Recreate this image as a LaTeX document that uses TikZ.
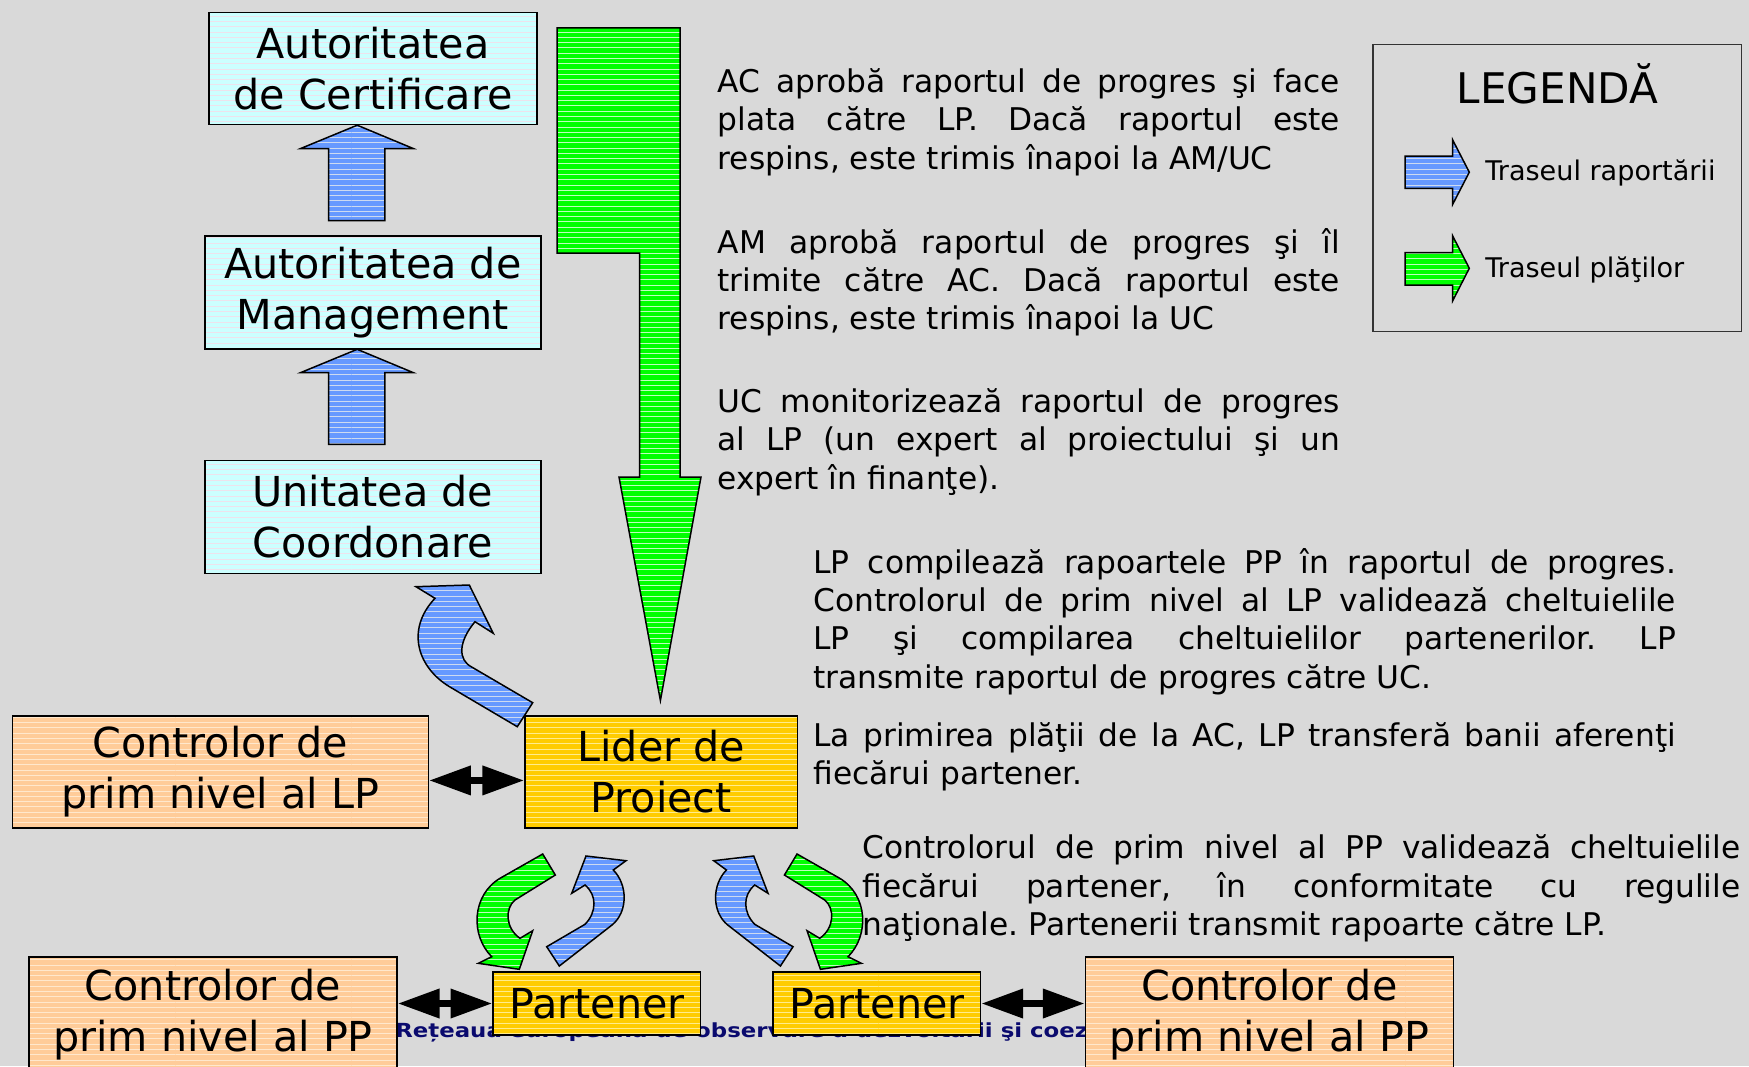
\documentclass[tikz,border=0pt]{standalone}
\usepackage{fontspec}
\setmainfont{DejaVu Sans}
\usepackage{graphicx}
\usepackage{tikz}
\usetikzlibrary{arrows.meta,patterns}

\definecolor{bggray}{RGB}{217,217,217}
\definecolor{boxcyan}{RGB}{204,255,255}
\definecolor{cyanline}{RGB}{238,226,236}
\definecolor{boxorange}{RGB}{255,204,153}
\definecolor{orangeline}{RGB}{255,232,205}
\definecolor{boxgold}{RGB}{255,204,0}
\definecolor{goldline}{RGB}{255,236,140}
\definecolor{arrowblue}{RGB}{102,153,255}
\definecolor{blueline}{RGB}{205,218,240}
\definecolor{arrowgreen}{RGB}{0,255,0}
\definecolor{greenline}{RGB}{190,255,190}
\definecolor{footnavy}{RGB}{10,10,110}

\newcommand{\boxfont}{\fontsize{23.5}{29}\selectfont}
\newcommand{\parfont}{\frenchspacing\fontsize{17.8}{21.8}\selectfont}
\newcommand{\legfont}{\fontsize{15.4}{18}\selectfont}

\begin{document}
\begin{tikzpicture}[x=0.02cm, y=-0.02cm,
  box/.style={draw, line width=0.85pt, align=center, inner sep=0pt, font=\boxfont, pattern=horizontal lines},
  cyanbox/.style={box, preaction={fill=boxcyan}, pattern color=cyanline},
  orangebox/.style={box, preaction={fill=boxorange}, pattern color=orangeline},
  goldbox/.style={box, preaction={fill=boxgold}, pattern color=goldline},
  blockarrow/.style={draw, line width=0.85pt, line join=miter, pattern=horizontal lines},
  bluearrow/.style={blockarrow, preaction={fill=arrowblue}, pattern color=blueline},
  greenarrow/.style={blockarrow, preaction={fill=arrowgreen}, pattern color=greenline},
  txt/.style={anchor=base west, align=justify, inner sep=0pt, font=\parfont},
  dblarrow/.style={{Triangle[length=23.8pt,width=15.9pt]}-{Triangle[length=23.8pt,width=15.9pt]}, line width=4pt}]

\useasboundingbox (0,0) rectangle (1749,1066);
\fill[bggray] (0,0) rectangle (1749,1066);

% slide footer, partly hidden by the boxes
\node[anchor=west, inner sep=0pt, text=footnavy] (footer) at (395,1032) {\scalebox{1}[0.85]{\bfseries\fontsize{13}{13}\selectfont Rețeaua europeană de observare a dezvoltării şi coeziunii teritoriale}};

% authorities

\node[cyanbox, minimum width=6.57cm, minimum height=2.25cm] (ac) at (373,68.5) {Autoritatea\\de Certificare};
\node[cyanbox, minimum width=6.72cm, minimum height=2.26cm] (am) at (372.8,292.5) {Autoritatea de\\Management};
\node[cyanbox, minimum width=6.72cm, minimum height=2.26cm] (uc) at (372.8,517) {Unitatea de\\Coordonare};

% lead partner row

\node[orangebox, minimum width=8.32cm, minimum height=2.24cm] (clp) at (220.3,772) {Controlor de\\prim nivel al LP};
\node[goldbox, minimum width=5.45cm, minimum height=2.24cm] (lider) at (661.2,772) {Lider de\\Proiect};

% partner row

\node[orangebox, minimum width=7.36cm, minimum height=2.32cm] (cppl) at (213,1015) {Controlor de\\prim nivel al PP};
\node[goldbox, minimum width=4.15cm, minimum height=1.26cm] (p1) at (596.8,1003.5) {Partener};
\node[goldbox, minimum width=4.15cm, minimum height=1.26cm] (p2) at (876.8,1003.5) {Partener};
\node[orangebox, minimum width=7.36cm, minimum height=2.32cm] (cppr) at (1269.4,1015) {Controlor de\\prim nivel al PP};

% controllers <-> beneficiaries
\draw[dblarrow] ([yshift=-4.8pt]clp.east) -- ([yshift=-4.8pt]lider.west);
\draw[dblarrow] (p1.west -| cppl.east) -- (p1.west);
\draw[dblarrow] (p2.east) -- (p2.east -| cppr.west);

% reporting up the chain
\draw[bluearrow] (328.7,220.7) -- (328.7,148.5) -- (300.7,148.5) -- (357.2,125.2) -- (413.2,148.5) -- (384.8,148.5) -- (384.8,220.7) -- cycle;
\draw[bluearrow] (328.7,444.4) -- (328.7,372.6) -- (300.7,372.6) -- (357.2,349.3) -- (413.2,372.6) -- (384.8,372.6) -- (384.8,444.4) -- cycle;

% payment going down
\draw[greenarrow] (557,27.8) -- (680,27.8) -- (680,477) -- (701,477) -- (660.4,700.5) -- (619,477) -- (639.6,477) -- (639.6,253) -- (557,253) -- cycle;

% LP -> UC
\draw[bluearrow] (416,586.7) -- (469.3,585) -- (493.3,633.3) -- (475,621.7) .. controls (458,642) and (458,660) .. (471.7,667) -- (532.7,702.7) -- (517.3,726.7) -- (450,687) .. controls (418,668) and (405,630) .. (435,598.3) -- cycle;

% LP <-> partners
\draw[greenarrow] (542.7,854) -- (555.3,875) -- (515,900) .. controls (505,908) and (505,928) .. (520,938.3) -- (532.7,930.7) -- (519.3,969.3) -- (478.3,963.3) -- (491.7,956.7) .. controls (470,935) and (472,895) .. (500,878.3) -- cycle;
\draw[bluearrow] (546.7,946.7) -- (585,924.3) .. controls (597,912) and (597,895) .. (585,885) -- (571.7,893.3) -- (586,856) -- (626,860.7) -- (613.3,870) .. controls (628,885) and (628,912) .. (612,925) -- (559.3,966) -- cycle;

\begin{scope}[xshift=26.8cm, xscale=-1]
\draw[greenarrow] (542.7,854) -- (555.3,875) -- (515,900) .. controls (505,908) and (505,928) .. (520,938.3) -- (532.7,930.7) -- (519.3,969.3) -- (478.3,963.3) -- (491.7,956.7) .. controls (470,935) and (472,895) .. (500,878.3) -- cycle;
\draw[bluearrow] (546.7,946.7) -- (585,924.3) .. controls (597,912) and (597,895) .. (585,885) -- (571.7,893.3) -- (586,856) -- (626,860.7) -- (613.3,870) .. controls (628,885) and (628,912) .. (612,925) -- (559.3,966) -- cycle;
\end{scope}

% explanations

\node[txt, text width=12.45cm] (t_ac) at (717.3,92.4) {AC aprobă raportul de progres şi face\linebreak plata către LP. Dacă raportul este\linebreak respins, este trimis înapoi la AM/UC};
\node[txt, text width=12.45cm] (t_am) at (717.3,253.1) {AM aprobă raportul de progres şi îl\linebreak trimite către AC. Dacă raportul este\linebreak respins, este trimis înapoi la UC};
\node[txt, text width=12.45cm] (t_uc) at (717.3,412.5) {UC monitorizează raportul de progres\linebreak al LP (un expert al proiectului şi un\linebreak expert în finanţe).};
\node[txt, text width=17.25cm] (t_lp) at (813.2,573.2) {LP compilează rapoartele PP în raportul de progres.\linebreak Controlorul de prim nivel al LP validează cheltuielile\linebreak LP şi compilarea cheltuielilor partenerilor. LP\linebreak transmite raportul de progres către UC.};
\node[txt, text width=17.25cm] (t_pay) at (813.2,746.1) {La primirea plăţii de la AC, LP transferă banii aferenţi\linebreak fiecărui partener.};
\node[txt, text width=17.56cm] (t_pp) at (862.3,858.8) {Controlorul de prim nivel al PP validează cheltuielile\linebreak fiecărui partener, în conformitate cu regulile\linebreak naţionale. Partenerii transmit rapoarte către LP.};

% legend

\draw[line width=0.85pt, draw=black!80] (1373.2,44.6) rectangle (1741.3,331.3);
\node[anchor=base, inner sep=0pt, font=\fontsize{24}{29}\selectfont] (legend_title) at (1557.5,103.3) {LEGENDĂ};
\draw[bluearrow] (1405,156) -- (1452.7,156) -- (1452.7,140) -- (1469.3,172.2) -- (1452.7,204.3) -- (1452.7,188.3) -- (1405,188.3) -- cycle;
\draw[greenarrow] (1405,252.7) -- (1452.7,252.7) -- (1452.7,236) -- (1469.3,268.3) -- (1452.7,300.7) -- (1452.7,285) -- (1405,285) -- cycle;
\node[anchor=west, inner sep=0pt, font=\legfont] (legend_blue) at (1485,173.3) {Traseul raportării};
\node[anchor=west, inner sep=0pt, font=\legfont] (legend_green) at (1485,270) {Traseul plăţilor};

\end{tikzpicture}
\end{document}
